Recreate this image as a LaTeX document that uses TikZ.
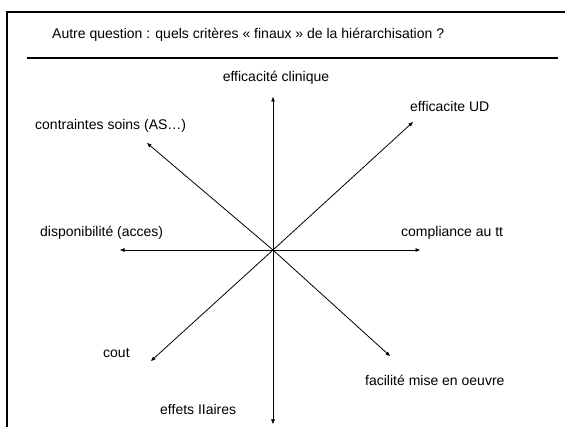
\documentclass[tikz,border=0pt]{standalone}
\usepackage{fontspec}
\setmainfont{Liberation Sans}
\usepackage{tikz}
\usetikzlibrary{positioning,arrows.meta}
\tikzset{
  critlabel/.style={font=\fontsize{14}{16}\selectfont, inner sep=0pt, anchor=base west},
  titlelabel/.style={critlabel},
  axisarrow/.style={-{Triangle[length=4.5pt,width=3.5pt]}, line width=0.8pt},
  frameline/.style={line width=2.5pt},
}

\begin{document}
\begin{tikzpicture}[x=1pt, y=-1pt]
\useasboundingbox (0,0) rectangle (565,427);

%% Frame and title rule
\draw[frameline] (7,427) -- (7,12) -- (565,12);
\draw[frameline] (27,58) -- (558,58);
\node[titlelabel] (title) at (52,39) {Autre question : quels critères « finaux » de la hiérarchisation ?};

%% Centre and arrow ends
\coordinate (ctr) at (273,250);
\coordinate (tipN)  at (273,97);
\coordinate (tipS)  at (273,424);
\coordinate (tipE)  at (420,250);
\coordinate (tipW)  at (120,250);
\coordinate (tipNE) at (413,122);
\coordinate (tipNW) at (147,143);
\coordinate (tipSW) at (151,361);
\coordinate (tipSE) at (390,356);

\foreach \tip in {N, S, E, W, NE, NW, SW, SE} {
  \draw[axisarrow] (ctr) -- (tip\tip);
}

%% Criteria labels
\node[critlabel, anchor=base] (clin) at (276,82) {efficacité clinique};
\node[critlabel] (ud)    at (410,112) {efficacite UD};
\node[critlabel] (soins) at (35,130)  {contraintes soins (AS…)};
\node[critlabel] (dispo) at (40,237)  {disponibilité (acces)};
\node[critlabel] (compl) at (401,237) {compliance au tt};
\node[critlabel] (cout)  at (103,358) {cout};
\node[critlabel] (facil) at (365,386) {facilité mise en oeuvre};
\node[critlabel] (effet) at (160,414) {effets IIaires};
\end{tikzpicture}
\end{document}
